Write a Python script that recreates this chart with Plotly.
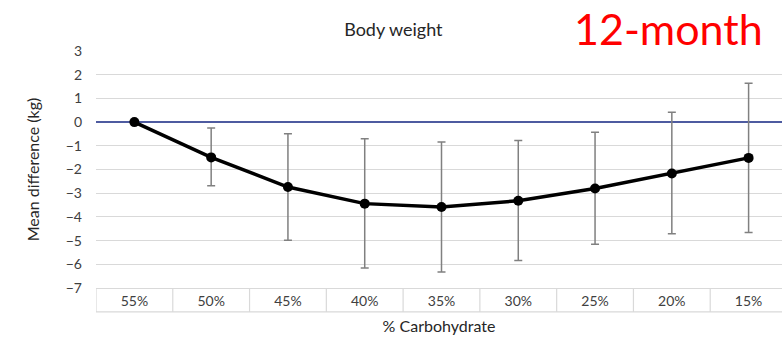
import plotly.graph_objects as go

# % carbohydrate categories and mean weight difference (kg) with 95% CI
carb_levels = ["55%", "50%", "45%", "40%", "35%", "30%", "25%", "20%", "15%"]
mean_diff = [0, -1.49, -2.74, -3.44, -3.58, -3.32, -2.80, -2.17, -1.51]
ci_upper = [0, -0.25, -0.49, -0.70, -0.84, -0.78, -0.43, 0.42, 1.64]
ci_lower = [0, -2.69, -4.98, -6.16, -6.33, -5.84, -5.15, -4.71, -4.66]
y_ticks = [3, 2, 1, 0, -1, -2, -3, -4, -5, -6, -7]

err_plus = [u - m for u, m in zip(ci_upper, mean_diff)]
err_minus = [m - l for m, l in zip(mean_diff, ci_lower)]

FONT = "Lato, 'Open Sans', sans-serif"
GRID = "#d9d9d9"
TABLE_DEPTH = -0.101  # depth of the category table below the axis, in plot fractions

fig = go.Figure()
fig.add_trace(go.Scatter(
    x=carb_levels,
    y=mean_diff,
    mode="lines+markers",
    line=dict(color="black", width=3.5),
    marker=dict(color="black", size=10),
    error_y=dict(type="data", symmetric=False, array=err_plus, arrayminus=err_minus,
                 color="#808080", thickness=1.5, width=4),
    showlegend=False,
))

# category table: bottom border and separators between categories
fig.add_shape(type="line", xref="paper", yref="paper", x0=0, x1=1,
              y0=TABLE_DEPTH, y1=TABLE_DEPTH, line=dict(color=GRID, width=1.2))
for i in range(len(carb_levels) + 1):
    fig.add_shape(type="line", xref="x", yref="paper", x0=i - 0.5, x1=i - 0.5,
                  y0=TABLE_DEPTH, y1=0, line=dict(color=GRID, width=1.2))

fig.update_layout(
    width=782, height=339,
    margin=dict(l=96, r=0, t=51, b=51),
    paper_bgcolor="white", plot_bgcolor="white",
    font=dict(family=FONT, color="#262626"),
    title=dict(text="Body weight", x=0.503, xanchor="center", xref="container",
               y=0.911, yanchor="middle", yref="container",
               font=dict(size=18, color="#262626", family=FONT)),
    annotations=[dict(text="12-month", xref="paper", yref="paper", x=0.975, y=1.097,
                      xanchor="right", yanchor="middle", showarrow=False,
                      font=dict(size=43, color="#ff0000", family=FONT))],
)

fig.update_xaxes(
    type="category",
    range=[-0.5, 8.435],
    showgrid=False,
    showline=True, linecolor=GRID, linewidth=1.2,
    ticks="",
    tickfont=dict(size=14, color="#404040"),
    title=dict(text="% Carbohydrate", font=dict(size=16, color="#262626"), standoff=12),
)
fig.update_yaxes(
    range=[-7, 3],
    tickvals=y_ticks,
    ticktext=[str(v).replace("-", "\u2212") for v in y_ticks],
    showgrid=True, gridcolor=GRID, gridwidth=1,
    zeroline=True, zerolinecolor="#4E5BA0", zerolinewidth=1.5,
    tickfont=dict(size=14, color="#404040"),
    ticks="", ticklabelstandoff=13,
    title=dict(text="Mean difference (kg)", font=dict(size=16, color="#262626"), standoff=22),
)

fig.write_html("out.html")
